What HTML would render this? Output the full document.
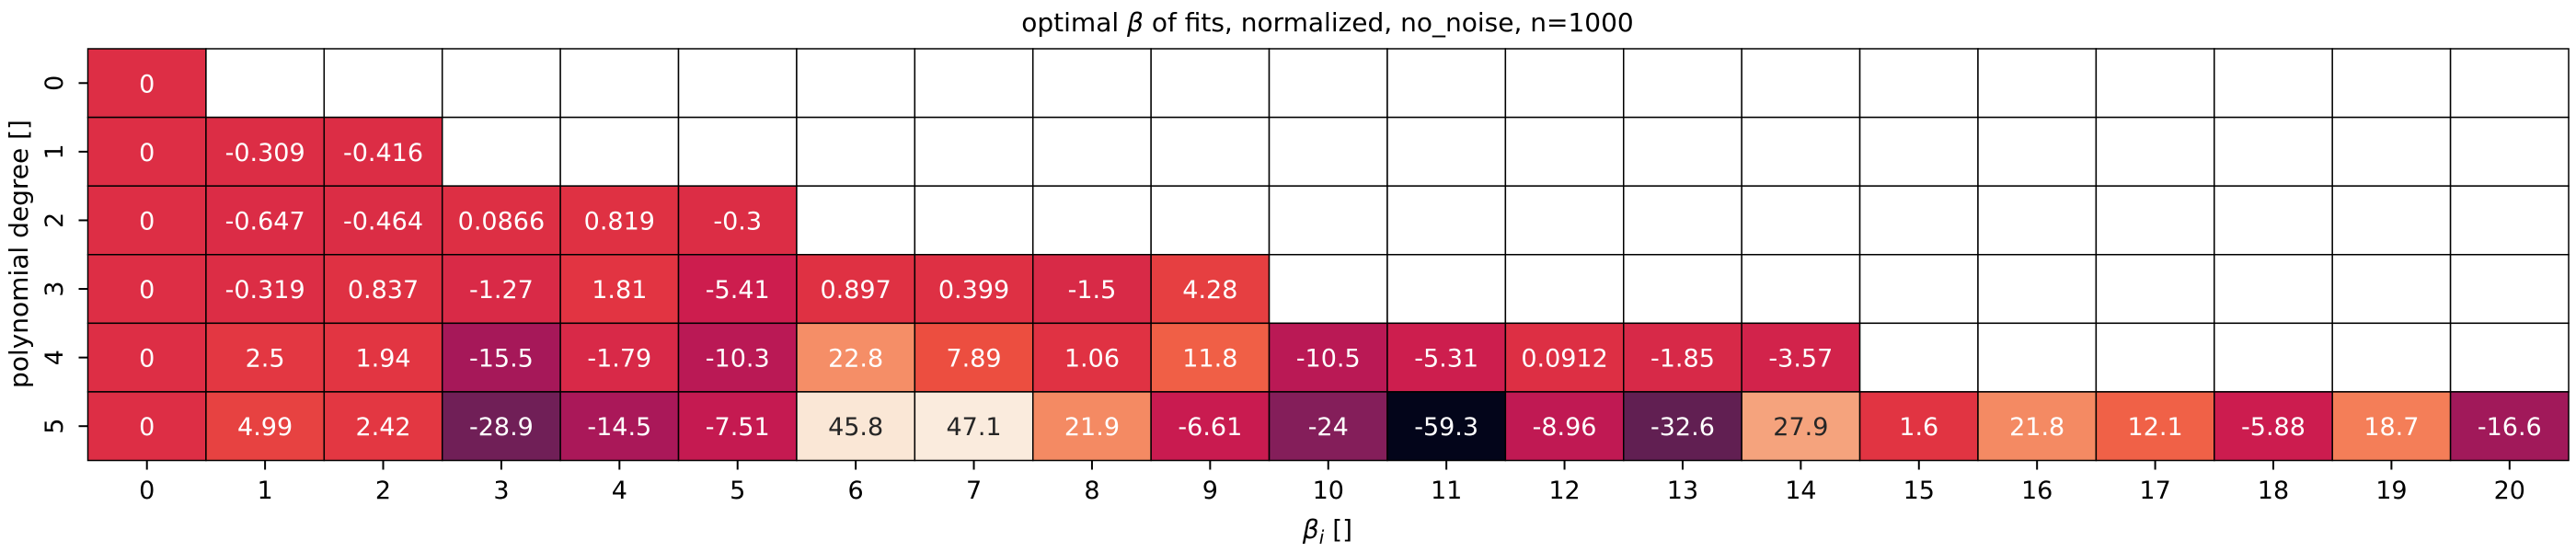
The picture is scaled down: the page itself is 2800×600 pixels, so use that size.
<!DOCTYPE html>
<html><head><meta charset="utf-8"><style>
html,body{margin:0;padding:0;background:#fff;}
svg{display:block;font-family:"DejaVu Sans","Liberation Sans",sans-serif;}
</style></head><body>
<svg id="chart" width="2800" height="600" viewBox="0 0 2800 600">
<text x="1443" y="34" font-size="28" text-anchor="middle">optimal <tspan font-style="italic">β</tspan> of fits, normalized, no_noise, n=1000</text>
<text x="1443" y="585" font-size="28" text-anchor="middle"><tspan font-style="italic">β</tspan><tspan font-style="italic" font-size="20" dy="6">i</tspan><tspan dy="-6"> []</tspan></text>
<text transform="translate(30,276) rotate(-90)" font-size="28" text-anchor="middle">polynomial degree []</text>
<g id="cells"></g><g id="ticks"></g>
</svg>
<script>
const rowLabels = ["0","1","2","3","4","5"];
const colLabels = ["0","1","2","3","4","5","6","7","8","9","10","11","12","13","14","15","16","17","18","19","20"];
const row0 = [0];
const row1 = [0,-0.309,-0.416];
const row2 = [0,-0.647,-0.464,0.0866,0.819,-0.3];
const row3 = [0,-0.319,0.837,-1.27,1.81,-5.41,0.897,0.399,-1.5,4.28];
const row4 = [0,2.5,1.94,-15.5,-1.79,-10.3,22.8,7.89,1.06,11.8,-10.5,-5.31,0.0912,-1.85,-3.57];
const row5 = [0,4.99,2.42,-28.9,-14.5,-7.51,45.8,47.1,21.9,-6.61,-24,-59.3,-8.96,-32.6,27.9,1.6,21.8,12.1,-5.88,18.7,-16.6];
const rows = [row0,row1,row2,row3,row4,row5];

const L=95.5, R=2792, T=53, B=500.5;
const cw=(R-L)/colLabels.length, ch=(B-T)/rowLabels.length;
const xPos=i=>L+i*cw, yPos=j=>T+j*ch;
const all=rows.flat(); const vmin=Math.min(...all), vmax=Math.max(...all);
const pal=[[0,'#03051a'],[0.071,'#1c1030'],[0.143,'#35193e'],[0.214,'#521e4d'],[0.286,'#701f57'],[0.357,'#8f1d5b'],[0.429,'#ad1759'],[0.5,'#cb1b4f'],[0.571,'#e13342'],[0.643,'#ee5340'],[0.714,'#f37651'],[0.786,'#f5946c'],[0.857,'#f6b48f'],[0.93,'#f8d2b7'],[1,'#faebdd']];
function hex(h){return [1,3,5].map(k=>parseInt(h.substr(k,2),16));}
function cmap(v){const t=(v-vmin)/(vmax-vmin);for(let k=1;k<pal.length;k++){if(t<=pal[k][0]){const a=pal[k-1],b=pal[k];const f=(t-a[0])/(b[0]-a[0]);const ca=hex(a[1]),cb=hex(b[1]);return ca.map((c,i)=>Math.round(c+(cb[i]-c)*f));}}return hex(pal[pal.length-1][1]);}
function lum(c){const l=c.map(x=>{x/=255;return x<=0.03928?x/12.92:Math.pow((x+0.055)/1.055,2.4);});return 0.2126*l[0]+0.7152*l[1]+0.0722*l[2];}
const NS='http://www.w3.org/2000/svg';
const gc=document.getElementById('cells'), gt=document.getElementById('ticks');
for(let j=0;j<rowLabels.length;j++){
  for(let i=0;i<colLabels.length;i++){
    const r=document.createElementNS(NS,'rect');
    r.setAttribute('x',xPos(i));r.setAttribute('y',yPos(j));r.setAttribute('width',cw);r.setAttribute('height',ch);
    r.setAttribute('stroke','#000');r.setAttribute('stroke-width','1.5');
    const v=rows[j][i];
    if(v===undefined){r.setAttribute('fill','#fff');
      
      
      gc.appendChild(r);continue;}
    const c=cmap(v);r.setAttribute('fill','rgb('+c.join(',')+')');
    
    
    gc.appendChild(r);
    const tx=document.createElementNS(NS,'text');
    tx.setAttribute('x',xPos(i)+cw/2);tx.setAttribute('y',yPos(j)+ch/2+10);
    tx.setAttribute('font-size','27');tx.setAttribute('text-anchor','middle');
    tx.setAttribute('fill',lum(c)>0.408?'#262626':'#fff');
    tx.textContent=String(v);
    
    
    gc.appendChild(tx);
  }
}
colLabels.forEach((lab,i)=>{
  const x=xPos(i)+cw/2;
  const l=document.createElementNS(NS,'line');
  l.setAttribute('x1',x);l.setAttribute('x2',x);l.setAttribute('y1',B);l.setAttribute('y2',B+10);l.setAttribute('stroke','#000');l.setAttribute('stroke-width','2');
  
  
  gt.appendChild(l);
  const t=document.createElementNS(NS,'text');
  t.setAttribute('x',x);t.setAttribute('y',542);t.setAttribute('font-size','27');t.setAttribute('text-anchor','middle');t.textContent=lab;
  
  
  gt.appendChild(t);
});
rowLabels.forEach((lab,j)=>{
  const y=yPos(j)+ch/2;
  const l=document.createElementNS(NS,'line');
  l.setAttribute('x1',L-10);l.setAttribute('x2',L);l.setAttribute('y1',y);l.setAttribute('y2',y);l.setAttribute('stroke','#000');l.setAttribute('stroke-width','2');
  
  
  gt.appendChild(l);
  const t=document.createElementNS(NS,'text');
  t.setAttribute('transform','translate(68,'+y+') rotate(-90)');t.setAttribute('font-size','27');t.setAttribute('text-anchor','middle');t.textContent=lab;
  
  
  gt.appendChild(t);
});
</script>
</body></html>
